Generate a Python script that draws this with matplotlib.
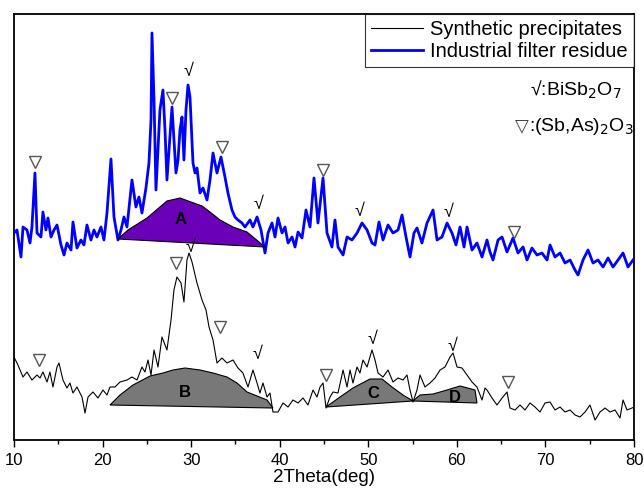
import numpy as np
import matplotlib
matplotlib.use("Agg")
import matplotlib.pyplot as plt

plt.rcParams['font.family'] = ['Liberation Sans', 'DejaVu Sans']

# industrial filter residue (blue)
blue_x = [10.00, 10.34, 10.79, 11.02, 11.47, 11.81, 12.03, 12.37, 12.60, 13.05, 13.27, 13.61, 13.84,
          14.18, 14.52, 14.86, 15.31, 15.65, 15.98, 16.44, 16.66, 17.11, 17.56, 17.90, 18.24, 18.69,
          19.03, 19.37, 19.82, 20.16, 20.50, 20.95, 21.29, 21.74, 22.08, 22.42, 22.76, 23.32, 23.77,
          24.11, 24.45, 24.90, 25.24, 25.47, 25.58, 25.81, 26.03, 26.26, 26.48, 26.82, 27.05, 27.27,
          27.50, 27.84, 28.06, 28.29, 28.52, 28.74, 28.97, 29.19, 29.42, 29.65, 29.87, 30.21, 30.44,
          30.66, 31.00, 31.34, 31.79, 32.13, 32.47, 32.92, 33.37, 33.82, 34.16, 34.61, 34.95, 35.29,
          35.74, 36.08, 36.65, 36.98, 37.44, 37.89, 38.34, 38.68, 39.13, 39.47, 39.81, 40.26, 40.60,
          40.94, 41.39, 41.73, 42.07, 42.52, 42.97, 43.42, 43.87, 44.32, 44.89, 45.34, 45.90, 46.24,
          46.58, 47.15, 47.60, 48.16, 48.73, 49.29, 49.86, 50.42, 50.76, 51.21, 51.66, 52.23, 52.79,
          53.36, 53.81, 54.26, 54.71, 55.16, 55.50, 56.06, 56.63, 57.31, 57.76, 58.32, 58.89, 59.45,
          59.90, 60.36, 60.81, 61.15, 61.71, 62.27, 62.84, 63.40, 63.74, 64.08, 64.65, 65.10, 65.66,
          66.34, 66.90, 67.47, 67.92, 68.48, 69.05, 69.61, 70.18, 70.52, 71.08, 71.65, 72.21, 72.78,
          73.34, 73.68, 74.24, 74.81, 75.37, 75.94, 76.50, 77.07, 77.63, 78.19, 78.76, 79.32, 79.89]
blue_y = [207, 210, 183, 213, 210, 197, 213, 267, 207, 203, 228, 210, 222,
          203, 210, 215, 195, 185, 197, 190, 218, 192, 200, 195, 215, 200,
          210, 203, 213, 200, 227, 281, 223, 200, 210, 223, 213, 260, 233,
          243, 227, 252, 277, 320, 407, 340, 250, 290, 330, 350, 310, 260,
          290, 333, 300, 267, 280, 310, 323, 280, 330, 355, 343, 277, 267,
          272, 247, 252, 240, 260, 287, 267, 283, 263, 247, 230, 223, 220,
          217, 213, 220, 213, 223, 210, 187, 207, 217, 203, 222, 207, 213,
          197, 203, 193, 208, 202, 230, 213, 262, 217, 262, 207, 193, 220,
          193, 185, 203, 200, 207, 217, 210, 197, 195, 218, 200, 215, 207,
          210, 225, 203, 183, 207, 212, 197, 217, 230, 200, 203, 217, 207,
          195, 213, 193, 213, 190, 197, 183, 200, 188, 180, 200, 203, 188,
          202, 187, 193, 180, 192, 185, 187, 180, 195, 183, 187, 177, 180,
          170, 165, 180, 190, 177, 180, 173, 182, 173, 180, 187, 173, 180]

# synthetic precipitates (black)
black_x = [10.00, 10.45, 11.02, 11.47, 12.03, 12.60, 12.94, 13.27, 13.73, 14.06, 14.40, 14.86, 15.08,
           15.53, 15.98, 16.32, 16.66, 17.11, 17.68, 18.02, 18.36, 18.92, 19.48, 20.05, 20.50, 20.84,
           21.40, 21.97, 22.76, 23.32, 23.89, 24.45, 24.79, 25.13, 25.47, 25.81, 26.26, 26.71, 27.27,
           27.73, 28.06, 28.40, 28.86, 29.19, 29.53, 29.76, 30.10, 30.66, 31.23, 31.68, 32.02, 32.47,
           32.92, 33.48, 34.05, 34.73, 35.29, 35.85, 36.42, 36.98, 37.44, 37.77, 38.11, 38.57, 38.90,
           39.24, 39.81, 40.37, 40.94, 41.50, 42.07, 42.63, 43.19, 43.76, 44.21, 44.55, 44.89, 45.23,
           45.68, 46.02, 46.58, 47.15, 47.60, 47.94, 48.27, 48.73, 49.06, 49.40, 49.86, 50.42, 50.76,
           51.10, 51.66, 52.23, 52.79, 53.36, 53.92, 54.37, 54.71, 55.05, 55.50, 55.84, 56.40, 56.97,
           57.53, 58.10, 58.66, 59.23, 59.57, 60.02, 60.58, 61.15, 61.71, 62.27, 62.84, 63.18, 63.40,
           63.97, 64.53, 65.10, 65.66, 66.00, 66.57, 67.13, 67.69, 68.26, 68.82, 69.39, 69.95, 70.52,
           71.08, 71.65, 72.21, 72.78, 73.34, 73.90, 74.47, 75.03, 75.60, 76.16, 76.73, 77.29, 77.86,
           78.42, 78.76, 79.21, 79.77, 80.00]
black_y = [83, 75, 63, 68, 60, 65, 62, 68, 58, 68, 53, 73, 77,
           60, 52, 57, 47, 53, 43, 27, 43, 48, 42, 50, 45, 53,
           53, 58, 60, 63, 60, 73, 68, 80, 65, 90, 73, 103, 90,
           120, 150, 163, 157, 138, 180, 187, 178, 157, 140, 130, 113, 100,
           77, 82, 77, 80, 72, 67, 53, 70, 57, 47, 57, 43, 47,
           28, 28, 37, 33, 40, 37, 42, 35, 50, 43, 53, 57, 32,
           43, 48, 47, 70, 53, 70, 57, 73, 67, 80, 73, 90, 80,
           67, 63, 70, 58, 62, 60, 65, 50, 38, 50, 65, 53, 57,
           62, 70, 73, 83, 87, 73, 72, 65, 58, 53, 40, 52, 50,
           42, 35, 42, 48, 32, 30, 35, 30, 37, 33, 28, 37, 38,
           30, 33, 28, 30, 25, 23, 28, 35, 20, 28, 32, 28, 30,
           22, 40, 30, 32, 33]

# shaded areas
area_a_x = [21.74, 22.87, 25.02, 27.27, 28.74, 31.23, 32.13, 33.26, 34.73, 36.31, 38.34]
area_a_y = [201, 210, 222, 239, 242, 234, 228, 220, 213, 208, 193]
area_b_x = [20.84, 21.97, 23.44, 25.36, 26.82, 27.95, 29.31, 31.00, 32.47, 34.05, 35.18, 36.31, 38.57, 39.24]
area_b_y = [35, 45, 55, 64, 67, 70, 72, 70, 67, 63, 57, 48, 40, 32]
area_c_x = [45.23, 46.81, 48.27, 50.19, 51.55, 52.68, 53.92, 55.05]
area_c_y = [33, 43, 52, 61, 61, 53, 45, 39]
area_d_x = [55.05, 55.84, 57.31, 58.89, 60.36, 62.05, 62.27]
area_d_y = [39, 45, 46, 50, 54, 50, 37]

# phase markers
tri_x = [12.37, 27.84, 33.48, 44.89, 66.45, 12.82, 28.29, 33.26, 45.23, 65.77]
tri_y = [278, 342, 293, 270, 208, 80, 177, 113, 65, 58]
chk_x = [29.65, 37.55, 49.06, 59.00, 29.98, 37.44, 50.42, 59.45]
chk_y = [368, 235, 228, 227, 192, 85, 100, 93]

fig = plt.figure(figsize=(6.44, 4.94), dpi=100)
ax = fig.add_axes([0.0217, 0.1093, 0.9628, 0.8624])

ax.plot(black_x, black_y, color='black', lw=0.8, label='Synthetic precipitates', zorder=3)
ax.plot(blue_x, blue_y, color='#0000ff', lw=2.0, label='Industrial filter residue', zorder=3)

ax.fill(area_a_x, area_a_y, facecolor='#6a00b8', edgecolor='black', lw=0.8, zorder=4)
ax.fill(area_b_x, area_b_y, facecolor='#787878', edgecolor='black', lw=0.8, zorder=4)
ax.fill(area_c_x, area_c_y, facecolor='#787878', edgecolor='black', lw=0.8, zorder=4)
ax.fill(area_d_x, area_d_y, facecolor='#787878', edgecolor='black', lw=0.8, zorder=4)

for lab, lx, ly in [('A', 28.86, 220), ('B', 29.31, 48), ('C', 50.53, 47), ('D', 59.79, 43)]:
    ax.text(lx, ly, lab, fontsize=12, fontweight='bold', ha='center', va='center', zorder=5)

ax.plot(tri_x, tri_y, 'v', ms=8, mfc='white', mec='#555555', mew=1.0, ls='none', zorder=5)
for cx, cy in zip(chk_x, chk_y):
    ax.text(cx, cy, '√', fontsize=13, ha='center', va='center', zorder=5)

ax.text(78.6, 350, '√:BiSb$_2$O$_7$', fontsize=14, ha='right', va='center')
t2 = ax.text(80.0, 313, ':(Sb,As)$_2$O$_3$', fontsize=14, ha='right', va='center')
ax.annotate('▽', xy=(0, 0.55), xycoords=t2, ha='right', va='center', fontsize=13,
            family='DejaVu Sans', color='#444444')

ax.set_xlim(10, 80)
ax.set_ylim(0, 426)
ax.set_yticks([])
ax.set_xticks(np.arange(10, 81, 10))
ax.set_xticks(np.arange(15, 80, 10), minor=True)
ax.tick_params(axis='x', direction='out', length=5, width=1, labelsize=12, pad=4)
ax.tick_params(axis='x', which='minor', direction='out', length=3, width=1)
for s in ax.spines.values():
    s.set_linewidth(1.3)
ax.set_xlabel('2Theta(deg)', fontsize=13.5, labelpad=1)

leg = ax.legend(loc='upper right', fontsize=14.5, frameon=True, fancybox=False,
                edgecolor='black', borderaxespad=0, handlelength=2.6, handletextpad=0.35,
                borderpad=0.3, labelspacing=0.15)
leg.get_frame().set_linewidth(0.8)

fig.savefig('out.png', dpi=100)
